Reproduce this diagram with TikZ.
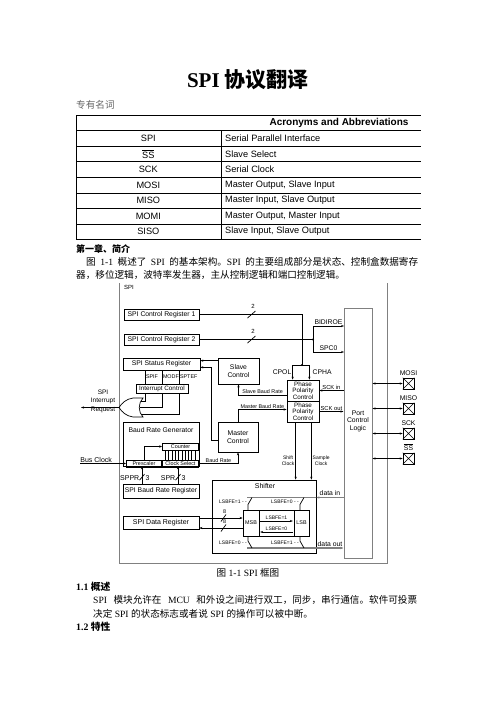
\documentclass[tikz,border=0pt]{standalone}
\usepackage{fontspec}
\setmainfont{Liberation Serif}
\newfontfamily\arial{Liberation Sans}
\newfontfamily\cjk{Noto Sans CJK SC}
\usetikzlibrary{positioning,arrows.meta}
\definecolor{wiregray}{rgb}{0.5,0.5,0.5}
\newcommand{\zh}[1]{{\cjk #1}}
\newcommand{\fs}[2]{\fontsize{#1}{#2}\selectfont}

\begin{document}
\begin{tikzpicture}[x=1pt, y=-1pt,
    >={Stealth[length=3pt,width=2.2pt]},
    every node/.style = {inner sep=0pt, font=\arial\fs{6.8}{7.6}},
    txt/.style = {anchor=west, font=\rmfamily\fs{9.6}{12}},
    heading/.style = {anchor=west, font=\rmfamily\bfseries\fs{9.8}{12}},
    tabtxt/.style = {font=\arial\fs{9.2}{11}},
    blk/.style = {draw, line width=0.7pt, align=center},
    lbl/.style = {font=\arial\fs{5.4}{6}},
    slbl/.style = {font=\arial\fs{5}{5.6}},
    wire/.style = {line width=0.7pt},
    bus/.style = {line width=1.1pt, draw=wiregray},
    pinbox/.style = {draw, line width=0.6pt, minimum size=11}
  ]
  \fill[white] (0,0) rectangle (496,702);
  \useasboundingbox (0,0) rectangle (496,702);

  % page text
  \node (title) at (248,80) {\rmfamily\bfseries\fs{21}{24}SPI \zh{协议翻译}};
  \node[txt, text=black!60] (terms) at (76,105) {\zh{专有名词}};

  % table
  \draw[line width=0.5pt] (76,115.7) -- (421,115.7) (76,130.7) -- (421,130.7)
    (76,115.7) -- (76,239.3) (221.7,130.7) -- (221.7,239.3);
  \foreach \y in {146.7,161.7,193.3,208.3,224,239.3}
    \draw[line width=0.5pt] (76,\y) -- (421,\y);
  \draw[line width=1pt] (76,177.3) -- (421,177.3);
  \node[font=\arial\bfseries\fs{10}{12}] (tabhead) at (339,123.3) {Acronyms and Abbreviations};
  \foreach \ab/\full [count=\i] in {SPI/Serial Parallel Interface,
      {$\overline{\mbox{SS}}$}/Slave Select, SCK/Serial Clock,
      MOSI/{Master Output, Slave Input}, MISO/{Master Input, Slave Output},
      MOMI/{Master Output, Master Input}, SISO/{Slave Input, Slave Output}} {
    \node[tabtxt] (ab\i) at (148.3,123+15.5*\i) {\ab};
    \node[tabtxt, anchor=west] (full\i) at (225,123+15.5*\i) {\full};
  }

  \node[heading, font=\rmfamily\bfseries\fs{9}{11}] (ch1) at (76,249) {\zh{第一章、简介}};
  \node[txt] (para1a) at (86,262) {\makebox[332pt][s]{\zh{图} 1-1 \zh{概述了} SPI \zh{的基本架构。}SPI \zh{的主要组成部分是状态、控制盒数据寄存}}};
  \node[txt] (para1b) at (76,275) {\zh{器，移位逻辑，波特率发生器，主从控制逻辑和端口控制逻辑。}};

  % SPI block
  \draw[bus, line width=1pt] (119,283) -- (119,563) -- (387,563) -- (387,283);
  \node[anchor=west, font=\arial\fs{6}{7}] (spi) at (124,287.5) {SPI};

  \node[blk, minimum width=75, minimum height=11] (cr1) at (161.5,314.5) {SPI Control Register 1};
  \node[blk, minimum width=75, minimum height=11] (cr2) at (161.5,339.5) {SPI Control Register 2};
  \node[blk, draw=wiregray, line width=1pt, minimum width=28, minimum height=250] (port) at (358,433) {};
  \node[align=center] (portlbl) at (358,421) {Port\\Control\\Logic};

  \coordinate (cpj) at (302,365);
  \coordinate (spj) at (313,339.5);
  \coordinate (bidi) at (344,326);
  \coordinate (spc) at (344,352);
  \draw[wire] (cr1.east) -| (cpj);
  \draw[wire] (cr2.east) -- (spj);
  \fill (cpj) circle (1.2) (spj) circle (1.2);
  \draw[wire,->] (spj) |- (bidi) node[pos=0.75, above=1pt] {BIDIROE};
  \draw[wire,->] (spj) |- (spc) node[pos=0.75, above=1pt] {SPC0};
  \foreach \y in {314.5,339.5} {
    \draw[wire] (247.5,\y+3.5) -- (255.5,\y-3.5);
    \node[font=\arial\fs{6}{7}] at (253,\y-8.5) {2};
  }

  \node[blk, minimum width=77, minimum height=12] (sr) at (161.5,364) {SPI Status Register};
  \node[blk, minimum width=41, minimum height=26] (slave) at (238.5,371) {Slave\\Control};
  \node[blk, minimum width=40, minimum height=30] (master) at (238,437) {Master\\Control};
  \node[blk, minimum width=32, minimum height=21, font=\arial\fs{6.3}{6.5}] (ph1) at (303,390.5) {Phase\\Polarity\\Control};
  \node[blk, minimum width=32, minimum height=21, font=\arial\fs{6.3}{6.5}] (ph2) at (303,411.5) {Phase\\Polarity\\Control};

  \draw[wire,->] (cpj) -| ([xshift=6]ph1.north west) node[pos=0.75, left=1pt] {CPOL};
  \draw[wire,->] (cpj) -| ([xshift=-10]ph1.north east) node[pos=0.75, right=3pt] {CPHA};
  \draw[wire,->] (port.west |- ph1.east) -- (ph1.east) node[midway, above=1pt, font=\arial\fs{5.8}{6}] {SCK in};
  \draw[wire,->] (ph2.east) -- (port.west |- ph2.east) node[midway, above=1pt, font=\arial\fs{5.8}{6}] {SCK out};
  \draw[wire,->] ([yshift=-3]slave.north west) -- ([yshift=-3]sr.north east);
  \draw[wire,->] ([yshift=-3]master.west) -- ++(-6,0) |- ([yshift=3]sr.south east);
  \draw[wire,->] ([yshift=-4.5]ph1.west) -| (slave.south) node[pos=0.25, above=0.8pt, lbl] {Slave Baud Rate};
  \draw[wire,->] (master.north) |- ([yshift=2]ph2.west) node[pos=0.75, above=0.8pt, lbl] {Master Baud Rate};

  % interrupt
  \node[blk, minimum width=52, minimum height=9, font=\arial\fs{6.3}{7}] (ic) at (162,388.5) {Interrupt Control};
  \foreach \x/\flag in {145/SPIF,162/MODF,179/SPTEF} {
    \draw[wire] (sr.south -| \x,0) -- (ic.north -| \x,0);
    \node[lbl, anchor=west] at (\x+0.8,377) {\flag};
  }
  \draw[wire] (143,398) .. controls (138,403) and (138,412) .. (143,417)
    -- (133,417) .. controls (126,416) and (122,412) .. (119,407.5)
    .. controls (122,403) and (126,399) .. (133,398) -- cycle;
  \coordinate (gout) at (119,407.5);
  \coordinate (irq) at (81,407.5);
  \coordinate (g1) at (141,401);
  \coordinate (g2) at (139.5,407.5);
  \coordinate (g3) at (141,414);
  \draw[wire] (ic.south -| 145,0) |- (g1);
  \draw[wire] (ic.south -| 162,0) |- (g2);
  \draw[wire] (ic.south -| 179,0) |- (g3);
  \draw[wire,->] (gout) -- (irq);
  \node[align=center, font=\arial\fs{6.5}{8}] (irqlbl) at (103,401) {SPI\\Interrupt\\[1pt]Request};

  % baud rate
  \node[blk, minimum width=76, minimum height=44] (brg) at (161,444) {};
  \node (brglbl) at (161,430) {Baud Rate Generator};
  \node[blk, minimum width=36, minimum height=7, lbl] (counter) at (180.5,446.5) {Counter};
  \node[blk, minimum width=36, minimum height=7, lbl] (clksel) at (180.5,463.5) {Clock Select};
  \node[blk, minimum width=35, minimum height=7, lbl] (presc) at (144,463.5) {Prescaler};
  \foreach \i in {1,...,10}
    \draw[line width=0.4pt] ([xshift=\i*3.27]counter.south west) -- ([xshift=\i*3.27]clksel.north west);
  \draw[wire,->] (presc.north) |- (counter.west);
  \coordinate (busin) at (80,463.5);
  \draw[wire,->] (busin) -- (presc.west) node[pos=0.35, above=1pt, font=\arial\fs{7}{8}] {Bus Clock};
  \draw[wire,->] (clksel.east) -| (master.south) node[pos=0.25, above=1pt, lbl] {Baud Rate};

  \node[blk, minimum width=76, minimum height=14] (brr) at (161,491) {SPI Baud Rate Register};
  \node[blk, minimum width=76, minimum height=13, font=\arial\fs{7}{8}] (dr) at (161,522.5) {SPI Data Register};
  \foreach \dx/\reg in {-19/SPPR,17/SPR} {
    \draw[wire,->] ([xshift=\dx]brr.north) -- ([xshift=\dx]brg.south);
    \draw[wire] ([xshift=\dx-2.5,yshift=3.5]brr.north) -- ([xshift=\dx+2.5,yshift=9.5]brr.north);
    \node[anchor=east, font=\arial\fs{7}{8}] at ([xshift=\dx-2.5,yshift=5.5]brr.north) {\reg};
    \node[anchor=west, font=\arial\fs{7}{8}] at ([xshift=\dx+3.5,yshift=5.5]brr.north) {3};
  }

  % shifter
  \node[blk, minimum width=104, minimum height=73] (shifter) at (264,516.5) {};
  \node[font=\arial\fs{7}{8}] (shlbl) at (265,485.5) {Shifter};
  \node[blk, minimum width=16, minimum height=26, lbl] (msb) at (251,523) {MSB};
  \node[blk, minimum width=35, minimum height=26] (mid) at (276.5,523) {};
  \node[blk, minimum width=15, minimum height=26, lbl] (lsb) at (301.5,523) {LSB};
  \draw[wire,->] ([xshift=1.5,yshift=2]mid.west) -- ([xshift=-1.5,yshift=2]mid.east) node[midway, above=0.8pt, slbl] {LSBFE=1};
  \draw[wire,->] ([xshift=-1.5,yshift=-9]mid.east) -- ([xshift=1.5,yshift=-9]mid.west) node[midway, above=0.8pt, slbl] {LSBFE=0};

  \draw[wire,->] ([yshift=4.5]dr.east) -- ([yshift=5]msb.west);
  \draw[wire,<-] ([yshift=-5.5]dr.east) -- ([yshift=-5]msb.west);
  \draw[wire] (221,521.5) -- (226,514.5) (221,531.5) -- (226,524.5);
  \node[lbl] at (224.5,512) {8};
  \node[lbl] at (224.5,522) {8};

  \coordinate (topbus) at (247,497.5);
  \coordinate (botbus) at (247,548);
  \draw[bus,->] (port.west |- topbus) -- (shifter.east |- topbus) node[midway, above=1pt, text=black] {data in};
  \draw[bus] (shifter.east |- topbus) -- (topbus);
  \draw[bus,->] (botbus) -- (port.west |- botbus) node[pos=0.86, above=1pt, text=black] {data out};
  \foreach \sx/\up/\dn in {248/1/0, 300/0/1} {
    \node[slbl, anchor=east] at (\sx-1,502) {LSBFE=\up\ - -};
    \draw[wire] (\sx,504.5) -- (\sx+4,497.5) (\sx,504.5) -- (\sx,510);
    \node[slbl, anchor=east] at (\sx-1,543) {LSBFE=\dn\ - -};
    \draw[wire] (\sx,541) -- (\sx+4,548) (\sx,541) -- (\sx,536);
  }

  \coordinate (shclk) at ([xshift=9]ph2.south west);
  \coordinate (smclk) at ([xshift=-8]ph2.south east);
  \draw[wire,->] (shclk) -- (shclk |- shifter.north) node[pos=0.67, left=1pt, slbl, align=center] {Shift\\Clock};
  \draw[wire,->] (smclk) -- (smclk |- shifter.north) node[pos=0.67, right=1pt, slbl, align=center] {Sample\\Clock};

  % pins
  \foreach \pname/\py [count=\i] in {MOSI/383.5, MISO/408.5, SCK/433.5, {$\overline{\mbox{SS}}$}/458.5} {
    \node[pinbox] (pin\i) at (408.5,\py) {};
    \draw[line width=0.5pt] (pin\i.north west) -- (pin\i.south east) (pin\i.north east) -- (pin\i.south west);
    \node[above=2pt of pin\i] (pinlbl\i) {\pname};
    \draw[wire,<->] (port.east |- pin\i.west) -- (pin\i.west);
  }

  % caption and text below
  \node[txt, anchor=center] (caption) at (248,573) {\zh{图} 1-1 SPI \zh{框图}};
  \node[heading] (sec11) at (76,587) {1.1 \zh{概述}};
  \node[txt] (para2a) at (93,600) {\makebox[324pt][s]{SPI \zh{模块允许在} MCU \zh{和外设之间进行双工，同步，串行通信。软件可投票}}};
  \node[txt] (para2b) at (93,613.5) {\zh{决定} SPI \zh{的状态标志或者说} SPI \zh{的操作可以被中断。}};
  \node[heading] (sec12) at (76,626.5) {1.2 \zh{特性}};
\end{tikzpicture}
\end{document}
